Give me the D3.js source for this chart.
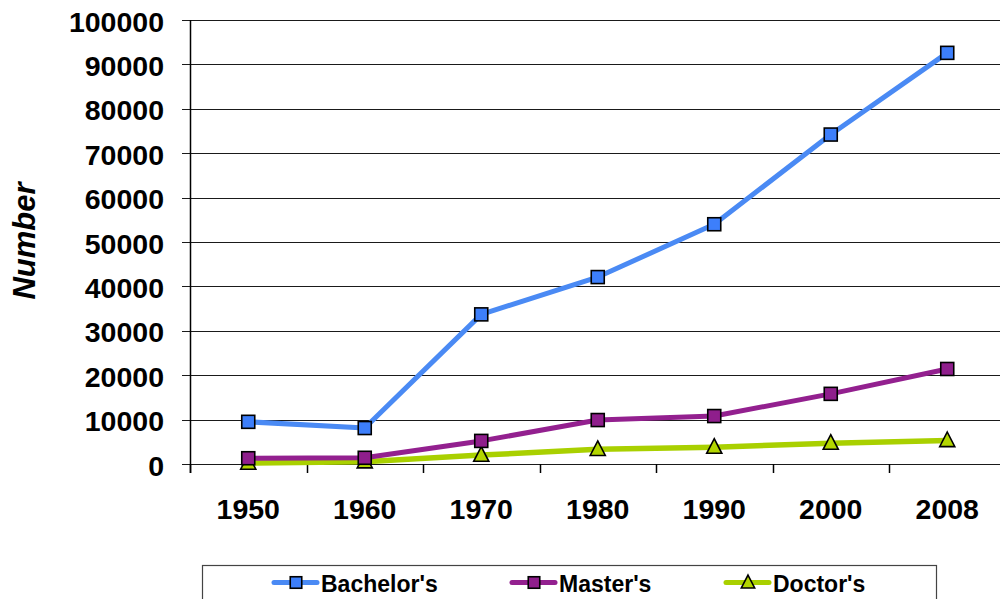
<!DOCTYPE html>
<html>
<head>
<meta charset="utf-8">
<script src="https://cdn.jsdelivr.net/npm/d3@7"></script>
<style>
  html, body { margin: 0; padding: 0; background: #fff; }
  svg { display: block; font-family: "Liberation Sans", Arial, sans-serif; font-weight: bold; }
</style>
</head>
<body>
<svg id="chart" width="1000" height="599"></svg>
<script>
// Degrees conferred, by level and year
const years = ["1950", "1960", "1970", "1980", "1990", "2000", "2008"];
const bachelors = [9500, 8100, 33700, 42100, 54000, 74200, 92600];
const masters = [1300, 1400, 5200, 9900, 10800, 15800, 21400];
const doctors = [200, 500, 2000, 3300, 3800, 4700, 5300];
const yTicks = [0, 10000, 20000, 30000, 40000, 50000, 60000, 70000, 80000, 90000, 100000];
const seriesNames = ["Bachelor's", "Master's", "Doctor's"];

const series = [
  { name: seriesNames[0], values: bachelors, line: "#4a8af4", fill: "#3d7ffb", shape: "square" },
  { name: seriesNames[1], values: masters, line: "#93208f", fill: "#8f1e8c", shape: "square" },
  { name: seriesNames[2], values: doctors, line: "#a9d000", fill: "#b3d600", shape: "triangle" }
];

const svg = d3.select("#chart");
const plotLeft = 190, plotRight = 1005.5, plotTop = 20, plotBottom = 464;

const x = d3.scaleBand().domain(years).range([plotLeft, plotRight]);
const y = d3.scaleLinear().domain([0, 100000]).range([plotBottom, plotTop]);

// horizontal gridlines with short ticks left of the axis
svg.append("g")
  .selectAll("line")
  .data(yTicks)
  .join("line")
  .attr("x1", plotLeft - 8)
  .attr("x2", 1000)
  .attr("y1", d => Math.round(y(d)) + 0.5)
  .attr("y2", d => Math.round(y(d)) + 0.5)
  .attr("stroke", "#1a1a1a")
  .attr("stroke-width", 1.2);

// y tick labels
svg.append("g")
  .selectAll("text")
  .data(yTicks)
  .join("text")
  .attr("x", 164)
  .attr("y", d => y(d) + 11.5)
  .attr("text-anchor", "end")
  .attr("font-size", 28.5)
  .attr("fill", "#000")
  .text(d => d);

// y axis line
svg.append("line")
  .attr("x1", plotLeft + 0.5).attr("x2", plotLeft + 0.5)
  .attr("y1", plotTop).attr("y2", plotBottom + 9)
  .attr("stroke", "#000").attr("stroke-width", 1.5);

// x axis tick marks at category boundaries
const boundaries = years.map(d => x(d)).concat([x(years[years.length - 1]) + x.bandwidth()]);
svg.append("g")
  .selectAll("line")
  .data(boundaries.filter(b => b <= 1000))
  .join("line")
  .attr("x1", d => Math.round(d) + 0.5)
  .attr("x2", d => Math.round(d) + 0.5)
  .attr("y1", plotBottom)
  .attr("y2", plotBottom + 9)
  .attr("stroke", "#000")
  .attr("stroke-width", 1.5);

// x tick labels
svg.append("g")
  .selectAll("text")
  .data(years)
  .join("text")
  .attr("x", d => x(d) + x.bandwidth() / 2)
  .attr("y", 519)
  .attr("text-anchor", "middle")
  .attr("font-size", 28.5)
  .attr("fill", "#000")
  .text(d => d);

// y axis title
svg.append("text")
  .attr("transform", "translate(35,241) rotate(-90)")
  .attr("text-anchor", "middle")
  .attr("font-size", 31)
  .attr("font-style", "italic")
  .attr("fill", "#000")
  .text("Number");

const cx = d => x(d) + x.bandwidth() / 2;
const lineGen = d3.line().x((v, i) => cx(years[i])).y(v => y(v));

function drawMarker(g, shape, px, py, fill, size) {
  if (shape === "square") {
    g.append("rect")
      .attr("x", px - size / 2).attr("y", py - size / 2)
      .attr("width", size).attr("height", size)
      .attr("fill", fill).attr("stroke", "#000").attr("stroke-width", 1.6);
  } else {
    const h = size * 1.05;
    g.append("path")
      .attr("d", `M${px},${py - h * 0.62} L${px + size * 0.58},${py + h * 0.45} L${px - size * 0.58},${py + h * 0.45} Z`)
      .attr("fill", fill).attr("stroke", "#000").attr("stroke-width", 1.6);
  }
}

// lines (drawn from back to front so Bachelor's sits on top)
const plot = svg.append("g");
series.slice().reverse().forEach(s => {
  plot.append("path")
    .attr("d", lineGen(s.values))
    .attr("fill", "none")
    .attr("stroke", s.line)
    .attr("stroke-width", s.shape === "triangle" ? 5.5 : 5)
    .attr("stroke-linejoin", "round");
});
series.slice().reverse().forEach(s => {
  const g = plot.append("g");
  s.values.forEach((v, i) => drawMarker(g, s.shape, cx(years[i]), y(v), s.fill, 13));
});

// legend
const legend = svg.append("g");
legend.append("rect")
  .attr("x", 202.5).attr("y", 565.5)
  .attr("width", 734).attr("height", 50)
  .attr("fill", "#fff").attr("stroke", "#444").attr("stroke-width", 1.2);

const legendX = [296, 534, 748];
series.forEach((s, i) => {
  const lx = legendX[i];
  const ly = 582.5;
  legend.append("line")
    .attr("x1", lx - 22).attr("x2", lx + 21)
    .attr("y1", ly).attr("y2", ly)
    .attr("stroke", s.line).attr("stroke-width", 5).attr("stroke-linecap", "round");
  drawMarker(legend, s.shape, lx, ly, s.fill, 11.5);
  legend.append("text")
    .attr("x", lx + 25)
    .attr("y", ly + 9.5)
    .attr("font-size", 23)
    .attr("fill", "#000")
    .text(s.name);
});
</script>
</body>
</html>
